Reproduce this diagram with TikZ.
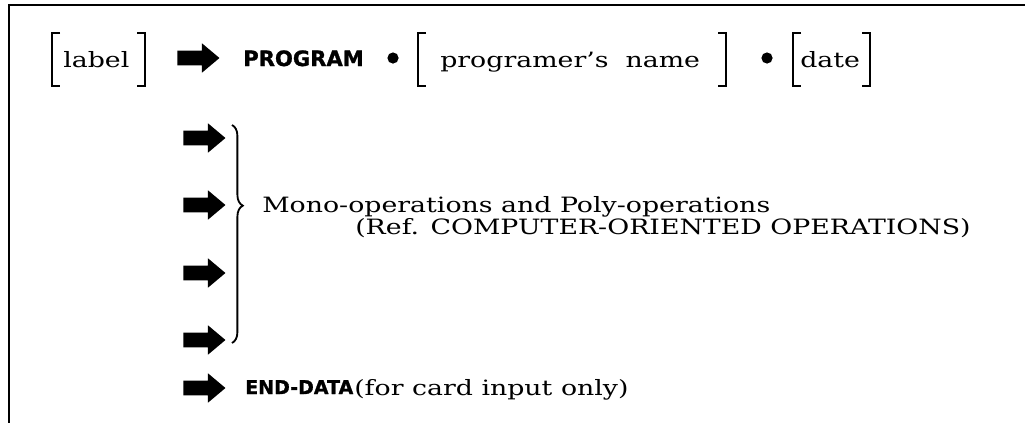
\documentclass[tikz,border=0pt]{standalone}
\usepackage{fontspec}
\setmainfont{DejaVu Serif}[FakeStretch=1.27]
\newfontfamily\keyfont{DejaVu Sans}[BoldFeatures={FakeBold=1.2}]
\usetikzlibrary{shapes.arrows,decorations.pathreplacing}

\begin{document}
\begin{tikzpicture}[
    x=0.025cm, y=-0.025cm,
    txt/.style={inner sep=0pt, anchor=base west,
                font=\fontsize{15}{17}\selectfont},
    key/.style={inner sep=0pt, anchor=base west,
                font=\keyfont\bfseries\fontsize{#1}{16}\selectfont},
    key/.default=15,
    fatarrow/.style={single arrow, fill=black, draw=none, inner sep=0.18cm,
                     minimum height=1.05cm, single arrow head extend=0.18cm,
                     single arrow tip angle=80},
    dot/.style={circle, fill=black, inner sep=0pt, minimum size=0.28cm},
    brk/.style={line width=1.7pt},
    brc/.style={line width=1.3pt, decorate,
                decoration={brace, amplitude=0.27cm, aspect=0.37}}
]
\useasboundingbox (0,0) rectangle (1025,423);

% Frame
\draw[line width=1.7pt] (1025,5) -- (9,5) -- (9,423);

% First line
\node[txt] (lbl) at (63,67) {label};
\node[fatarrow] (a0) at (194,58) {};
\node[key] (prog) at (243,66) {PROGRAM};
\node[dot] (d1) at (393,58) {};
\node[txt] (pname) at (440,67) {programer's\ \ name};
\node[dot] (d2) at (767,58) {};
\node[txt] (date) at (800,67) {date};

% Brackets
\draw[brk] (60,33) -- (52,33) -- (52,86) -- (60,86);
\draw[brk] (137,33) -- (145,33) -- (145,86) -- (137,86);
\draw[brk] (426,33) -- (418,33) -- (418,86) -- (426,86);
\draw[brk] (718,33) -- (726,33) -- (726,86) -- (718,86);
\draw[brk] (801,33) -- (793,33) -- (793,86) -- (801,86);
\draw[brk] (862,33) -- (870,33) -- (870,86) -- (862,86);

% Operation lines
\foreach \i/\y in {1/138, 2/205, 3/273, 4/340}
    \node[fatarrow] (a\i) at (200,\y) {};
\draw[brc] (232,125) -- (232,343);
\node[txt] (mono) at (262,212) {Mono-operations and Poly-operations};
\node[txt] (ref) at (355,234) {(Ref. COMPUTER-ORIENTED OPERATIONS)};

% Last line
\node[fatarrow] (a5) at (200,388) {};
\node[key=13.5] (enddata) at (245,394) {END-DATA};
\node[txt] (card) at (354,395) {(for card input only)};
\end{tikzpicture}
\end{document}
